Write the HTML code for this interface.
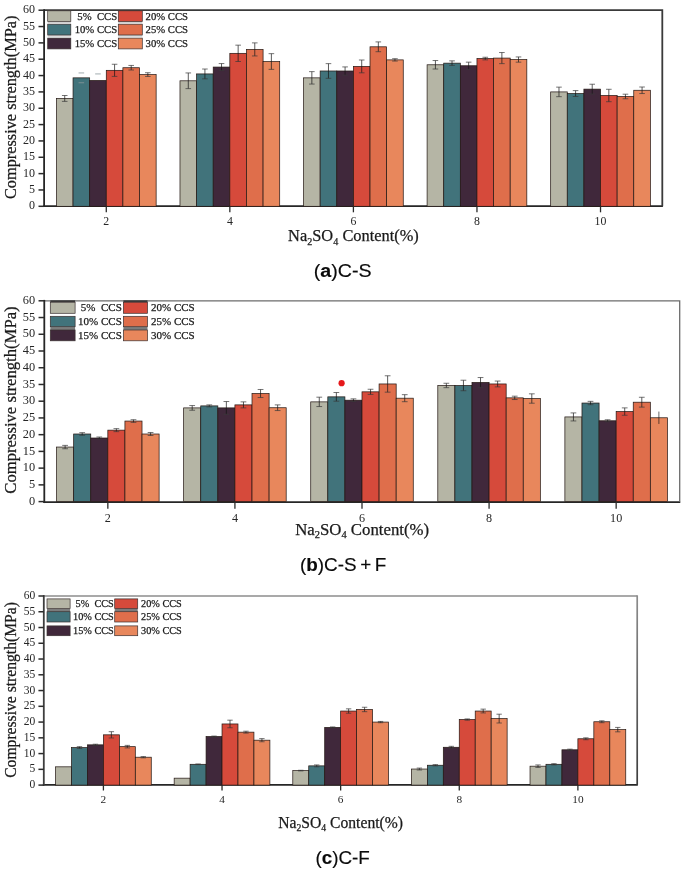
<!DOCTYPE html>
<html lang="en"><head><meta charset="utf-8"><title>Compressive strength</title>
<style>html,body{margin:0;padding:0;background:#fff}body{width:685px;height:871px;overflow:hidden}svg{display:block;filter:blur(0.7px)}</style>
</head><body>
<svg width="685" height="871" viewBox="0 0 685 871">
<rect x="0" y="0" width="685" height="871" fill="#ffffff"/>
<g id="chart0">
<path d="M43.10 206.10H662.90" fill="none" stroke="#262626" stroke-width="1.7"/>
<rect x="56.42" y="98.45" width="16.62" height="107.86" fill="#b5b5a5" stroke="#241814" stroke-width="0.72"/>
<rect x="73.04" y="77.85" width="16.62" height="128.45" fill="#41737b" stroke="#241814" stroke-width="0.72"/>
<rect x="89.66" y="80.47" width="16.62" height="125.83" fill="#40283b" stroke="#241814" stroke-width="0.72"/>
<rect x="106.28" y="70.34" width="16.62" height="135.96" fill="#d64a3b" stroke="#241814" stroke-width="0.72"/>
<rect x="122.90" y="67.72" width="16.62" height="138.58" fill="#df6e4b" stroke="#241814" stroke-width="0.72"/>
<rect x="139.52" y="74.59" width="16.62" height="131.71" fill="#e8875c" stroke="#241814" stroke-width="0.72"/>
<rect x="179.98" y="80.80" width="16.62" height="125.50" fill="#b5b5a5" stroke="#241814" stroke-width="0.72"/>
<rect x="196.60" y="73.93" width="16.62" height="132.37" fill="#41737b" stroke="#241814" stroke-width="0.72"/>
<rect x="213.22" y="67.07" width="16.62" height="139.23" fill="#40283b" stroke="#241814" stroke-width="0.72"/>
<rect x="229.84" y="53.34" width="16.62" height="152.96" fill="#d64a3b" stroke="#241814" stroke-width="0.72"/>
<rect x="246.46" y="49.42" width="16.62" height="156.88" fill="#df6e4b" stroke="#241814" stroke-width="0.72"/>
<rect x="263.08" y="61.51" width="16.62" height="144.79" fill="#e8875c" stroke="#241814" stroke-width="0.72"/>
<rect x="303.54" y="77.85" width="16.62" height="128.45" fill="#b5b5a5" stroke="#241814" stroke-width="0.72"/>
<rect x="320.16" y="70.99" width="16.62" height="135.31" fill="#41737b" stroke="#241814" stroke-width="0.72"/>
<rect x="336.78" y="70.99" width="16.62" height="135.31" fill="#40283b" stroke="#241814" stroke-width="0.72"/>
<rect x="353.40" y="66.42" width="16.62" height="139.88" fill="#d64a3b" stroke="#241814" stroke-width="0.72"/>
<rect x="370.02" y="46.81" width="16.62" height="159.49" fill="#df6e4b" stroke="#241814" stroke-width="0.72"/>
<rect x="386.64" y="59.88" width="16.62" height="146.42" fill="#e8875c" stroke="#241814" stroke-width="0.72"/>
<rect x="427.10" y="64.78" width="16.62" height="141.52" fill="#b5b5a5" stroke="#241814" stroke-width="0.72"/>
<rect x="443.72" y="63.15" width="16.62" height="143.15" fill="#41737b" stroke="#241814" stroke-width="0.72"/>
<rect x="460.34" y="65.76" width="16.62" height="140.54" fill="#40283b" stroke="#241814" stroke-width="0.72"/>
<rect x="476.96" y="58.57" width="16.62" height="147.73" fill="#d64a3b" stroke="#241814" stroke-width="0.72"/>
<rect x="493.58" y="58.08" width="16.62" height="148.22" fill="#df6e4b" stroke="#241814" stroke-width="0.72"/>
<rect x="510.20" y="59.55" width="16.62" height="146.75" fill="#e8875c" stroke="#241814" stroke-width="0.72"/>
<rect x="550.66" y="91.91" width="16.62" height="114.39" fill="#b5b5a5" stroke="#241814" stroke-width="0.72"/>
<rect x="567.28" y="93.54" width="16.62" height="112.76" fill="#41737b" stroke="#241814" stroke-width="0.72"/>
<rect x="583.90" y="89.13" width="16.62" height="117.17" fill="#40283b" stroke="#241814" stroke-width="0.72"/>
<rect x="600.52" y="95.50" width="16.62" height="110.80" fill="#d64a3b" stroke="#241814" stroke-width="0.72"/>
<rect x="617.14" y="96.48" width="16.62" height="109.82" fill="#df6e4b" stroke="#241814" stroke-width="0.72"/>
<rect x="633.76" y="90.27" width="16.62" height="116.03" fill="#e8875c" stroke="#241814" stroke-width="0.72"/>
<path d="M64.73 95.50V101.39" stroke="#141414" stroke-width="0.7" fill="none"/>
<path d="M61.93 95.50H67.53M61.93 101.39H67.53" stroke="#3a3a3a" stroke-width="0.7" fill="none"/>
<path d="M78.55 72.95H84.15M78.55 82.76H84.15" stroke="#8a979a" stroke-width="0.8" fill="none"/>
<path d="M95.17 73.93H100.77" stroke="#8a979a" stroke-width="0.8" fill="none"/>
<path d="M114.59 64.26V76.42" stroke="#141414" stroke-width="0.7" fill="none"/>
<path d="M111.79 64.26H117.39M111.79 76.42H117.39" stroke="#3a3a3a" stroke-width="0.7" fill="none"/>
<path d="M131.21 65.43V70.01" stroke="#141414" stroke-width="0.7" fill="none"/>
<path d="M128.41 65.43H134.01M128.41 70.01H134.01" stroke="#3a3a3a" stroke-width="0.7" fill="none"/>
<path d="M147.83 72.72V76.45" stroke="#141414" stroke-width="0.7" fill="none"/>
<path d="M145.03 72.72H150.63M145.03 76.45H150.63" stroke="#3a3a3a" stroke-width="0.7" fill="none"/>
<path d="M188.29 72.95V88.64" stroke="#141414" stroke-width="0.7" fill="none"/>
<path d="M185.49 72.95H191.09M185.49 88.64H191.09" stroke="#3a3a3a" stroke-width="0.7" fill="none"/>
<path d="M204.91 69.03V78.84" stroke="#141414" stroke-width="0.7" fill="none"/>
<path d="M202.11 69.03H207.71M202.11 78.84H207.71" stroke="#3a3a3a" stroke-width="0.7" fill="none"/>
<path d="M221.53 63.57V70.57" stroke="#141414" stroke-width="0.7" fill="none"/>
<path d="M218.73 63.57H224.33M218.73 70.57H224.33" stroke="#3a3a3a" stroke-width="0.7" fill="none"/>
<path d="M238.15 45.17V61.51" stroke="#141414" stroke-width="0.7" fill="none"/>
<path d="M235.35 45.17H240.95M235.35 61.51H240.95" stroke="#3a3a3a" stroke-width="0.7" fill="none"/>
<path d="M254.77 42.88V55.96" stroke="#141414" stroke-width="0.7" fill="none"/>
<path d="M251.97 42.88H257.57M251.97 55.96H257.57" stroke="#3a3a3a" stroke-width="0.7" fill="none"/>
<path d="M271.39 53.67V69.36" stroke="#141414" stroke-width="0.7" fill="none"/>
<path d="M268.59 53.67H274.19M268.59 69.36H274.19" stroke="#3a3a3a" stroke-width="0.7" fill="none"/>
<path d="M311.85 71.64V84.06" stroke="#141414" stroke-width="0.7" fill="none"/>
<path d="M309.05 71.64H314.65M309.05 84.06H314.65" stroke="#3a3a3a" stroke-width="0.7" fill="none"/>
<path d="M328.47 63.64V78.34" stroke="#141414" stroke-width="0.7" fill="none"/>
<path d="M325.67 63.64H331.27M325.67 78.34H331.27" stroke="#3a3a3a" stroke-width="0.7" fill="none"/>
<path d="M345.09 66.91V75.08" stroke="#141414" stroke-width="0.7" fill="none"/>
<path d="M342.29 66.91H347.89M342.29 75.08H347.89" stroke="#3a3a3a" stroke-width="0.7" fill="none"/>
<path d="M361.71 60.01V72.82" stroke="#141414" stroke-width="0.7" fill="none"/>
<path d="M358.91 60.01H364.51M358.91 72.82H364.51" stroke="#3a3a3a" stroke-width="0.7" fill="none"/>
<path d="M378.33 41.90V51.71" stroke="#141414" stroke-width="0.7" fill="none"/>
<path d="M375.53 41.90H381.13M375.53 51.71H381.13" stroke="#3a3a3a" stroke-width="0.7" fill="none"/>
<path d="M394.95 58.70V61.06" stroke="#141414" stroke-width="0.7" fill="none"/>
<path d="M392.15 58.70H397.75M392.15 61.06H397.75" stroke="#3a3a3a" stroke-width="0.7" fill="none"/>
<path d="M435.41 60.53V69.03" stroke="#141414" stroke-width="0.7" fill="none"/>
<path d="M432.61 60.53H438.21M432.61 69.03H438.21" stroke="#3a3a3a" stroke-width="0.7" fill="none"/>
<path d="M452.03 60.86V65.43" stroke="#141414" stroke-width="0.7" fill="none"/>
<path d="M449.23 60.86H454.83M449.23 65.43H454.83" stroke="#3a3a3a" stroke-width="0.7" fill="none"/>
<path d="M468.65 62.17V69.36" stroke="#141414" stroke-width="0.7" fill="none"/>
<path d="M465.85 62.17H471.45M465.85 69.36H471.45" stroke="#3a3a3a" stroke-width="0.7" fill="none"/>
<path d="M485.27 57.26V59.88" stroke="#141414" stroke-width="0.7" fill="none"/>
<path d="M482.47 57.26H488.07M482.47 59.88H488.07" stroke="#3a3a3a" stroke-width="0.7" fill="none"/>
<path d="M501.89 52.52V63.64" stroke="#141414" stroke-width="0.7" fill="none"/>
<path d="M499.09 52.52H504.69M499.09 63.64H504.69" stroke="#3a3a3a" stroke-width="0.7" fill="none"/>
<path d="M518.51 56.94V62.17" stroke="#141414" stroke-width="0.7" fill="none"/>
<path d="M515.71 56.94H521.31M515.71 62.17H521.31" stroke="#3a3a3a" stroke-width="0.7" fill="none"/>
<path d="M558.97 87.14V96.68" stroke="#141414" stroke-width="0.7" fill="none"/>
<path d="M556.17 87.14H561.77M556.17 96.68H561.77" stroke="#3a3a3a" stroke-width="0.7" fill="none"/>
<path d="M575.59 90.60V96.48" stroke="#141414" stroke-width="0.7" fill="none"/>
<path d="M572.79 90.60H578.39M572.79 96.48H578.39" stroke="#3a3a3a" stroke-width="0.7" fill="none"/>
<path d="M592.21 84.23V94.03" stroke="#141414" stroke-width="0.7" fill="none"/>
<path d="M589.41 84.23H595.01M589.41 94.03H595.01" stroke="#3a3a3a" stroke-width="0.7" fill="none"/>
<path d="M608.83 89.29V101.71" stroke="#141414" stroke-width="0.7" fill="none"/>
<path d="M606.03 89.29H611.63M606.03 101.71H611.63" stroke="#3a3a3a" stroke-width="0.7" fill="none"/>
<path d="M625.45 94.20V98.77" stroke="#141414" stroke-width="0.7" fill="none"/>
<path d="M622.65 94.20H628.25M622.65 98.77H628.25" stroke="#3a3a3a" stroke-width="0.7" fill="none"/>
<path d="M642.07 87.01V93.54" stroke="#141414" stroke-width="0.7" fill="none"/>
<path d="M639.27 87.01H644.87M639.27 93.54H644.87" stroke="#3a3a3a" stroke-width="0.7" fill="none"/>
<path d="M44.10 10.20H662.30V206.30" fill="none" stroke="#3a3a3a" stroke-width="1.8"/>
<path d="M44.10 9.30V206.95" fill="none" stroke="#262626" stroke-width="1.8"/>
<path d="M38.50 206.30H44.10" stroke="#2b2b2b" stroke-width="1.5"/>
<text x="35.10" y="209.42" font-family='"Liberation Serif", "DejaVu Serif", serif' font-size="12.00" text-anchor="end" fill="#262626">0</text>
<path d="M38.50 189.96H44.10" stroke="#2b2b2b" stroke-width="1.5"/>
<text x="35.10" y="193.08" font-family='"Liberation Serif", "DejaVu Serif", serif' font-size="12.00" text-anchor="end" fill="#262626">5</text>
<path d="M38.50 173.62H44.10" stroke="#2b2b2b" stroke-width="1.5"/>
<text x="35.10" y="176.74" font-family='"Liberation Serif", "DejaVu Serif", serif' font-size="12.00" text-anchor="end" fill="#262626">10</text>
<path d="M38.50 157.28H44.10" stroke="#2b2b2b" stroke-width="1.5"/>
<text x="35.10" y="160.40" font-family='"Liberation Serif", "DejaVu Serif", serif' font-size="12.00" text-anchor="end" fill="#262626">15</text>
<path d="M38.50 140.93H44.10" stroke="#2b2b2b" stroke-width="1.5"/>
<text x="35.10" y="144.05" font-family='"Liberation Serif", "DejaVu Serif", serif' font-size="12.00" text-anchor="end" fill="#262626">20</text>
<path d="M38.50 124.59H44.10" stroke="#2b2b2b" stroke-width="1.5"/>
<text x="35.10" y="127.71" font-family='"Liberation Serif", "DejaVu Serif", serif' font-size="12.00" text-anchor="end" fill="#262626">25</text>
<path d="M38.50 108.25H44.10" stroke="#2b2b2b" stroke-width="1.5"/>
<text x="35.10" y="111.37" font-family='"Liberation Serif", "DejaVu Serif", serif' font-size="12.00" text-anchor="end" fill="#262626">30</text>
<path d="M38.50 91.91H44.10" stroke="#2b2b2b" stroke-width="1.5"/>
<text x="35.10" y="95.03" font-family='"Liberation Serif", "DejaVu Serif", serif' font-size="12.00" text-anchor="end" fill="#262626">35</text>
<path d="M38.50 75.57H44.10" stroke="#2b2b2b" stroke-width="1.5"/>
<text x="35.10" y="78.69" font-family='"Liberation Serif", "DejaVu Serif", serif' font-size="12.00" text-anchor="end" fill="#262626">40</text>
<path d="M38.50 59.22H44.10" stroke="#2b2b2b" stroke-width="1.5"/>
<text x="35.10" y="62.34" font-family='"Liberation Serif", "DejaVu Serif", serif' font-size="12.00" text-anchor="end" fill="#262626">45</text>
<path d="M38.50 42.88H44.10" stroke="#2b2b2b" stroke-width="1.5"/>
<text x="35.10" y="46.00" font-family='"Liberation Serif", "DejaVu Serif", serif' font-size="12.00" text-anchor="end" fill="#262626">50</text>
<path d="M38.50 26.54H44.10" stroke="#2b2b2b" stroke-width="1.5"/>
<text x="35.10" y="29.66" font-family='"Liberation Serif", "DejaVu Serif", serif' font-size="12.00" text-anchor="end" fill="#262626">55</text>
<path d="M38.50 10.20H44.10" stroke="#2b2b2b" stroke-width="1.5"/>
<text x="35.10" y="13.32" font-family='"Liberation Serif", "DejaVu Serif", serif' font-size="12.00" text-anchor="end" fill="#262626">60</text>
<path d="M106.28 206.30V212.30" stroke="#2b2b2b" stroke-width="1.3"/>
<text x="106.28" y="225.10" font-family='"Liberation Serif", "DejaVu Serif", serif' font-size="11.80" text-anchor="middle" fill="#262626">2</text>
<path d="M229.84 206.30V212.30" stroke="#2b2b2b" stroke-width="1.3"/>
<text x="229.84" y="225.10" font-family='"Liberation Serif", "DejaVu Serif", serif' font-size="11.80" text-anchor="middle" fill="#262626">4</text>
<path d="M353.40 206.30V212.30" stroke="#2b2b2b" stroke-width="1.3"/>
<text x="353.40" y="225.10" font-family='"Liberation Serif", "DejaVu Serif", serif' font-size="11.80" text-anchor="middle" fill="#262626">6</text>
<path d="M476.96 206.30V212.30" stroke="#2b2b2b" stroke-width="1.3"/>
<text x="476.96" y="225.10" font-family='"Liberation Serif", "DejaVu Serif", serif' font-size="11.80" text-anchor="middle" fill="#262626">8</text>
<path d="M600.52 206.30V212.30" stroke="#2b2b2b" stroke-width="1.3"/>
<text x="600.52" y="225.10" font-family='"Liberation Serif", "DejaVu Serif", serif' font-size="11.80" text-anchor="middle" fill="#262626">10</text>
<text x="288.10" y="241.30" font-family='"Liberation Serif", "DejaVu Serif", serif' font-size="16.35" fill="#1a1a1a" stroke="#1a1a1a" stroke-width="0.25" textLength="130.70" lengthAdjust="spacingAndGlyphs">Na<tspan font-size="10.14" dy="3.27">2</tspan><tspan dy="-3.27">SO</tspan><tspan font-size="10.14" dy="3.27">4</tspan><tspan dy="-3.27"> Content(%)</tspan></text>
<text transform="translate(15.60 199.10) rotate(-90)" font-family='"Liberation Serif", "DejaVu Serif", serif' font-size="16.35" fill="#1a1a1a" stroke="#1a1a1a" stroke-width="0.25" textLength="183.50" lengthAdjust="spacingAndGlyphs">Compressive strength(MPa)</text>
<text x="313.80" y="277.20" font-family='"Liberation Sans", "DejaVu Sans", sans-serif' font-size="19.1" word-spacing="-1.7" fill="#0a0a0a" stroke="#0a0a0a" stroke-width="0.15" textLength="57.80" lengthAdjust="spacingAndGlyphs">(<tspan font-weight="bold">a</tspan>)C-S</text>
<rect x="47.70" y="21.60" width="23.10" height="1.70" fill="#cfcfcf"/>
<rect x="118.30" y="21.60" width="24.00" height="1.70" fill="#cfcfcf"/>
<rect x="47.70" y="35.00" width="23.10" height="1.70" fill="#cfcfcf"/>
<rect x="118.30" y="35.00" width="24.00" height="1.70" fill="#cfcfcf"/>
<rect x="47.70" y="10.80" width="23.10" height="10.80" fill="#b5b5a5" stroke="#3a3030" stroke-width="0.7"/>
<text x="117.10" y="19.73" font-family='"Liberation Serif", "DejaVu Serif", serif' font-size="10.70" text-anchor="end" fill="#1a1a1a" stroke="#1a1a1a" stroke-width="0.25" xml:space="preserve">5%  CCS</text>
<rect x="47.70" y="24.20" width="23.10" height="10.80" fill="#41737b" stroke="#3a3030" stroke-width="0.7"/>
<text x="117.10" y="33.13" font-family='"Liberation Serif", "DejaVu Serif", serif' font-size="10.70" text-anchor="end" fill="#1a1a1a" stroke="#1a1a1a" stroke-width="0.25" xml:space="preserve">10% CCS</text>
<rect x="47.70" y="38.10" width="23.10" height="10.80" fill="#40283b" stroke="#3a3030" stroke-width="0.7"/>
<text x="117.10" y="47.03" font-family='"Liberation Serif", "DejaVu Serif", serif' font-size="10.70" text-anchor="end" fill="#1a1a1a" stroke="#1a1a1a" stroke-width="0.25" xml:space="preserve">15% CCS</text>
<rect x="118.30" y="10.80" width="24.00" height="10.80" fill="#d64a3b" stroke="#3a3030" stroke-width="0.7"/>
<text x="145.60" y="19.73" font-family='"Liberation Serif", "DejaVu Serif", serif' font-size="10.70" fill="#1a1a1a" stroke="#1a1a1a" stroke-width="0.25" xml:space="preserve">20% CCS</text>
<rect x="118.30" y="24.20" width="24.00" height="10.80" fill="#df6e4b" stroke="#3a3030" stroke-width="0.7"/>
<text x="145.60" y="33.13" font-family='"Liberation Serif", "DejaVu Serif", serif' font-size="10.70" fill="#1a1a1a" stroke="#1a1a1a" stroke-width="0.25" xml:space="preserve">25% CCS</text>
<rect x="118.30" y="38.10" width="24.00" height="10.80" fill="#e8875c" stroke="#3a3030" stroke-width="0.7"/>
<text x="145.60" y="47.03" font-family='"Liberation Serif", "DejaVu Serif", serif' font-size="10.70" fill="#1a1a1a" stroke="#1a1a1a" stroke-width="0.25" xml:space="preserve">30% CCS</text>
</g>
<g id="chart1">
<path d="M43.30 502.20H680.30" fill="none" stroke="#262626" stroke-width="1.7"/>
<rect x="56.56" y="447.05" width="17.09" height="54.55" fill="#b5b5a5" stroke="#241814" stroke-width="0.72"/>
<rect x="73.66" y="434.00" width="17.09" height="67.60" fill="#41737b" stroke="#241814" stroke-width="0.72"/>
<rect x="90.75" y="438.01" width="17.09" height="63.59" fill="#40283b" stroke="#241814" stroke-width="0.72"/>
<rect x="107.84" y="430.15" width="17.09" height="71.45" fill="#d64a3b" stroke="#241814" stroke-width="0.72"/>
<rect x="124.93" y="421.05" width="17.09" height="80.55" fill="#df6e4b" stroke="#241814" stroke-width="0.72"/>
<rect x="142.02" y="434.00" width="17.09" height="67.60" fill="#e8875c" stroke="#241814" stroke-width="0.72"/>
<rect x="183.64" y="407.89" width="17.09" height="93.71" fill="#b5b5a5" stroke="#241814" stroke-width="0.72"/>
<rect x="200.74" y="405.89" width="17.09" height="95.71" fill="#41737b" stroke="#241814" stroke-width="0.72"/>
<rect x="217.83" y="407.89" width="17.09" height="93.71" fill="#40283b" stroke="#241814" stroke-width="0.72"/>
<rect x="234.92" y="404.88" width="17.09" height="96.72" fill="#d64a3b" stroke="#241814" stroke-width="0.72"/>
<rect x="252.01" y="393.50" width="17.09" height="108.10" fill="#df6e4b" stroke="#241814" stroke-width="0.72"/>
<rect x="269.10" y="407.73" width="17.09" height="93.87" fill="#e8875c" stroke="#241814" stroke-width="0.72"/>
<rect x="310.72" y="401.87" width="17.09" height="99.73" fill="#b5b5a5" stroke="#241814" stroke-width="0.72"/>
<rect x="327.82" y="396.85" width="17.09" height="104.75" fill="#41737b" stroke="#241814" stroke-width="0.72"/>
<rect x="344.91" y="400.20" width="17.09" height="101.40" fill="#40283b" stroke="#241814" stroke-width="0.72"/>
<rect x="362.00" y="391.83" width="17.09" height="109.77" fill="#d64a3b" stroke="#241814" stroke-width="0.72"/>
<rect x="379.09" y="383.96" width="17.09" height="117.64" fill="#df6e4b" stroke="#241814" stroke-width="0.72"/>
<rect x="396.18" y="398.19" width="17.09" height="103.41" fill="#e8875c" stroke="#241814" stroke-width="0.72"/>
<rect x="437.80" y="385.47" width="17.09" height="116.13" fill="#b5b5a5" stroke="#241814" stroke-width="0.72"/>
<rect x="454.90" y="385.47" width="17.09" height="116.13" fill="#41737b" stroke="#241814" stroke-width="0.72"/>
<rect x="471.99" y="382.46" width="17.09" height="119.14" fill="#40283b" stroke="#241814" stroke-width="0.72"/>
<rect x="489.08" y="383.96" width="17.09" height="117.64" fill="#d64a3b" stroke="#241814" stroke-width="0.72"/>
<rect x="506.17" y="397.85" width="17.09" height="103.75" fill="#df6e4b" stroke="#241814" stroke-width="0.72"/>
<rect x="523.26" y="398.52" width="17.09" height="103.08" fill="#e8875c" stroke="#241814" stroke-width="0.72"/>
<rect x="564.88" y="416.93" width="17.09" height="84.67" fill="#b5b5a5" stroke="#241814" stroke-width="0.72"/>
<rect x="581.98" y="403.04" width="17.09" height="98.56" fill="#41737b" stroke="#241814" stroke-width="0.72"/>
<rect x="599.07" y="420.78" width="17.09" height="80.82" fill="#40283b" stroke="#241814" stroke-width="0.72"/>
<rect x="616.16" y="411.57" width="17.09" height="90.03" fill="#d64a3b" stroke="#241814" stroke-width="0.72"/>
<rect x="633.25" y="402.20" width="17.09" height="99.40" fill="#df6e4b" stroke="#241814" stroke-width="0.72"/>
<rect x="650.34" y="417.77" width="17.09" height="83.83" fill="#e8875c" stroke="#241814" stroke-width="0.72"/>
<path d="M65.11 445.38V448.72" stroke="#141414" stroke-width="0.7" fill="none"/>
<path d="M62.23 445.38H67.99M62.23 448.72H67.99" stroke="#3a3a3a" stroke-width="0.7" fill="none"/>
<path d="M82.20 432.66V435.34" stroke="#141414" stroke-width="0.7" fill="none"/>
<path d="M79.32 432.66H85.08M79.32 435.34H85.08" stroke="#3a3a3a" stroke-width="0.7" fill="none"/>
<path d="M99.29 437.01V439.02" stroke="#141414" stroke-width="0.7" fill="none"/>
<path d="M96.42 437.01H102.17M96.42 439.02H102.17" stroke="#3a3a3a" stroke-width="0.7" fill="none"/>
<path d="M116.39 428.64V431.65" stroke="#141414" stroke-width="0.7" fill="none"/>
<path d="M113.51 428.64H119.26M113.51 431.65H119.26" stroke="#3a3a3a" stroke-width="0.7" fill="none"/>
<path d="M133.48 419.71V422.38" stroke="#141414" stroke-width="0.7" fill="none"/>
<path d="M130.60 419.71H136.36M130.60 422.38H136.36" stroke="#3a3a3a" stroke-width="0.7" fill="none"/>
<path d="M150.57 432.49V435.50" stroke="#141414" stroke-width="0.7" fill="none"/>
<path d="M147.69 432.49H153.45M147.69 435.50H153.45" stroke="#3a3a3a" stroke-width="0.7" fill="none"/>
<path d="M192.19 405.55V410.24" stroke="#141414" stroke-width="0.7" fill="none"/>
<path d="M189.31 405.55H195.07M189.31 410.24H195.07" stroke="#3a3a3a" stroke-width="0.7" fill="none"/>
<path d="M209.28 404.88V406.89" stroke="#141414" stroke-width="0.7" fill="none"/>
<path d="M206.40 404.88H212.16M206.40 406.89H212.16" stroke="#3a3a3a" stroke-width="0.7" fill="none"/>
<path d="M226.37 401.53V414.25" stroke="#141414" stroke-width="0.7" fill="none"/>
<path d="M223.50 401.53H229.25M223.50 414.25H229.25" stroke="#3a3a3a" stroke-width="0.7" fill="none"/>
<path d="M243.47 401.87V407.89" stroke="#141414" stroke-width="0.7" fill="none"/>
<path d="M240.59 401.87H246.34M240.59 407.89H246.34" stroke="#3a3a3a" stroke-width="0.7" fill="none"/>
<path d="M260.56 389.49V397.52" stroke="#141414" stroke-width="0.7" fill="none"/>
<path d="M257.68 389.49H263.44M257.68 397.52H263.44" stroke="#3a3a3a" stroke-width="0.7" fill="none"/>
<path d="M277.65 404.88V410.57" stroke="#141414" stroke-width="0.7" fill="none"/>
<path d="M274.77 404.88H280.53M274.77 410.57H280.53" stroke="#3a3a3a" stroke-width="0.7" fill="none"/>
<path d="M319.27 397.18V406.55" stroke="#141414" stroke-width="0.7" fill="none"/>
<path d="M316.39 397.18H322.15M316.39 406.55H322.15" stroke="#3a3a3a" stroke-width="0.7" fill="none"/>
<path d="M336.36 392.50V401.20" stroke="#141414" stroke-width="0.7" fill="none"/>
<path d="M333.48 392.50H339.24M333.48 401.20H339.24" stroke="#3a3a3a" stroke-width="0.7" fill="none"/>
<path d="M353.45 398.86V401.53" stroke="#141414" stroke-width="0.7" fill="none"/>
<path d="M350.58 398.86H356.33M350.58 401.53H356.33" stroke="#3a3a3a" stroke-width="0.7" fill="none"/>
<path d="M370.55 389.25V394.41" stroke="#141414" stroke-width="0.7" fill="none"/>
<path d="M367.67 389.25H373.42M367.67 394.41H373.42" stroke="#3a3a3a" stroke-width="0.7" fill="none"/>
<path d="M387.64 375.77V392.16" stroke="#141414" stroke-width="0.7" fill="none"/>
<path d="M384.76 375.77H390.52M384.76 392.16H390.52" stroke="#3a3a3a" stroke-width="0.7" fill="none"/>
<path d="M404.73 394.67V401.70" stroke="#141414" stroke-width="0.7" fill="none"/>
<path d="M401.85 394.67H407.61M401.85 401.70H407.61" stroke="#3a3a3a" stroke-width="0.7" fill="none"/>
<path d="M446.35 383.26V387.68" stroke="#141414" stroke-width="0.7" fill="none"/>
<path d="M443.47 383.26H449.23M443.47 387.68H449.23" stroke="#3a3a3a" stroke-width="0.7" fill="none"/>
<path d="M463.44 380.22V390.72" stroke="#141414" stroke-width="0.7" fill="none"/>
<path d="M460.56 380.22H466.32M460.56 390.72H466.32" stroke="#3a3a3a" stroke-width="0.7" fill="none"/>
<path d="M480.53 377.54V387.38" stroke="#141414" stroke-width="0.7" fill="none"/>
<path d="M477.66 377.54H483.41M477.66 387.38H483.41" stroke="#3a3a3a" stroke-width="0.7" fill="none"/>
<path d="M497.63 381.05V386.88" stroke="#141414" stroke-width="0.7" fill="none"/>
<path d="M494.75 381.05H500.50M494.75 386.88H500.50" stroke="#3a3a3a" stroke-width="0.7" fill="none"/>
<path d="M514.72 396.18V399.53" stroke="#141414" stroke-width="0.7" fill="none"/>
<path d="M511.84 396.18H517.60M511.84 399.53H517.60" stroke="#3a3a3a" stroke-width="0.7" fill="none"/>
<path d="M531.81 393.84V403.21" stroke="#141414" stroke-width="0.7" fill="none"/>
<path d="M528.93 393.84H534.69M528.93 403.21H534.69" stroke="#3a3a3a" stroke-width="0.7" fill="none"/>
<path d="M573.43 412.91V420.95" stroke="#141414" stroke-width="0.7" fill="none"/>
<path d="M570.55 412.91H576.31M570.55 420.95H576.31" stroke="#3a3a3a" stroke-width="0.7" fill="none"/>
<path d="M590.52 401.37V404.71" stroke="#141414" stroke-width="0.7" fill="none"/>
<path d="M587.64 401.37H593.40M587.64 404.71H593.40" stroke="#3a3a3a" stroke-width="0.7" fill="none"/>
<path d="M607.61 419.77V421.78" stroke="#141414" stroke-width="0.7" fill="none"/>
<path d="M604.74 419.77H610.49M604.74 421.78H610.49" stroke="#3a3a3a" stroke-width="0.7" fill="none"/>
<path d="M624.71 407.89V415.26" stroke="#141414" stroke-width="0.7" fill="none"/>
<path d="M621.83 407.89H627.58M621.83 415.26H627.58" stroke="#3a3a3a" stroke-width="0.7" fill="none"/>
<path d="M641.80 397.28V407.12" stroke="#141414" stroke-width="0.7" fill="none"/>
<path d="M638.92 397.28H644.68M638.92 407.12H644.68" stroke="#3a3a3a" stroke-width="0.7" fill="none"/>
<path d="M658.89 411.57V423.96" stroke="#141414" stroke-width="0.65" fill="none"/>
<path d="M44.30 300.80H679.70V501.60" fill="none" stroke="#6c6c6c" stroke-width="1.3"/>
<path d="M44.30 299.90V503.05" fill="none" stroke="#262626" stroke-width="1.8"/>
<path d="M38.54 501.60H44.30" stroke="#2b2b2b" stroke-width="1.5"/>
<text x="35.05" y="504.81" font-family='"Liberation Serif", "DejaVu Serif", serif' font-size="12.33" text-anchor="end" fill="#262626">0</text>
<path d="M38.54 484.87H44.30" stroke="#2b2b2b" stroke-width="1.5"/>
<text x="35.05" y="488.07" font-family='"Liberation Serif", "DejaVu Serif", serif' font-size="12.33" text-anchor="end" fill="#262626">5</text>
<path d="M38.54 468.13H44.30" stroke="#2b2b2b" stroke-width="1.5"/>
<text x="35.05" y="471.34" font-family='"Liberation Serif", "DejaVu Serif", serif' font-size="12.33" text-anchor="end" fill="#262626">10</text>
<path d="M38.54 451.40H44.30" stroke="#2b2b2b" stroke-width="1.5"/>
<text x="35.05" y="454.61" font-family='"Liberation Serif", "DejaVu Serif", serif' font-size="12.33" text-anchor="end" fill="#262626">15</text>
<path d="M38.54 434.67H44.30" stroke="#2b2b2b" stroke-width="1.5"/>
<text x="35.05" y="437.87" font-family='"Liberation Serif", "DejaVu Serif", serif' font-size="12.33" text-anchor="end" fill="#262626">20</text>
<path d="M38.54 417.93H44.30" stroke="#2b2b2b" stroke-width="1.5"/>
<text x="35.05" y="421.14" font-family='"Liberation Serif", "DejaVu Serif", serif' font-size="12.33" text-anchor="end" fill="#262626">25</text>
<path d="M38.54 401.20H44.30" stroke="#2b2b2b" stroke-width="1.5"/>
<text x="35.05" y="404.41" font-family='"Liberation Serif", "DejaVu Serif", serif' font-size="12.33" text-anchor="end" fill="#262626">30</text>
<path d="M38.54 384.47H44.30" stroke="#2b2b2b" stroke-width="1.5"/>
<text x="35.05" y="387.67" font-family='"Liberation Serif", "DejaVu Serif", serif' font-size="12.33" text-anchor="end" fill="#262626">35</text>
<path d="M38.54 367.73H44.30" stroke="#2b2b2b" stroke-width="1.5"/>
<text x="35.05" y="370.94" font-family='"Liberation Serif", "DejaVu Serif", serif' font-size="12.33" text-anchor="end" fill="#262626">40</text>
<path d="M38.54 351.00H44.30" stroke="#2b2b2b" stroke-width="1.5"/>
<text x="35.05" y="354.21" font-family='"Liberation Serif", "DejaVu Serif", serif' font-size="12.33" text-anchor="end" fill="#262626">45</text>
<path d="M38.54 334.27H44.30" stroke="#2b2b2b" stroke-width="1.5"/>
<text x="35.05" y="337.47" font-family='"Liberation Serif", "DejaVu Serif", serif' font-size="12.33" text-anchor="end" fill="#262626">50</text>
<path d="M38.54 317.53H44.30" stroke="#2b2b2b" stroke-width="1.5"/>
<text x="35.05" y="320.74" font-family='"Liberation Serif", "DejaVu Serif", serif' font-size="12.33" text-anchor="end" fill="#262626">55</text>
<path d="M38.54 300.80H44.30" stroke="#2b2b2b" stroke-width="1.5"/>
<text x="35.05" y="304.01" font-family='"Liberation Serif", "DejaVu Serif", serif' font-size="12.33" text-anchor="end" fill="#262626">60</text>
<path d="M107.84 501.60V508.80" stroke="#2b2b2b" stroke-width="1.3"/>
<text x="107.84" y="521.70" font-family='"Liberation Serif", "DejaVu Serif", serif' font-size="12.13" text-anchor="middle" fill="#262626">2</text>
<path d="M234.92 501.60V508.80" stroke="#2b2b2b" stroke-width="1.3"/>
<text x="234.92" y="521.70" font-family='"Liberation Serif", "DejaVu Serif", serif' font-size="12.13" text-anchor="middle" fill="#262626">4</text>
<path d="M362.00 501.60V508.80" stroke="#2b2b2b" stroke-width="1.3"/>
<text x="362.00" y="521.70" font-family='"Liberation Serif", "DejaVu Serif", serif' font-size="12.13" text-anchor="middle" fill="#262626">6</text>
<path d="M489.08 501.60V508.80" stroke="#2b2b2b" stroke-width="1.3"/>
<text x="489.08" y="521.70" font-family='"Liberation Serif", "DejaVu Serif", serif' font-size="12.13" text-anchor="middle" fill="#262626">8</text>
<path d="M616.16 501.60V508.80" stroke="#2b2b2b" stroke-width="1.3"/>
<text x="616.16" y="521.70" font-family='"Liberation Serif", "DejaVu Serif", serif' font-size="12.13" text-anchor="middle" fill="#262626">10</text>
<text x="295.20" y="534.70" font-family='"Liberation Serif", "DejaVu Serif", serif' font-size="16.80" fill="#1a1a1a" stroke="#1a1a1a" stroke-width="0.25" textLength="133.90" lengthAdjust="spacingAndGlyphs">Na<tspan font-size="10.42" dy="3.36">2</tspan><tspan dy="-3.36">SO</tspan><tspan font-size="10.42" dy="3.36">4</tspan><tspan dy="-3.36"> Content(%)</tspan></text>
<text transform="translate(16.00 493.70) rotate(-90)" font-family='"Liberation Serif", "DejaVu Serif", serif' font-size="16.80" fill="#1a1a1a" stroke="#1a1a1a" stroke-width="0.25" textLength="187.30" lengthAdjust="spacingAndGlyphs">Compressive strength(MPa)</text>
<text x="299.90" y="570.90" font-family='"Liberation Sans", "DejaVu Sans", sans-serif' font-size="19.1" word-spacing="-1.7" fill="#0a0a0a" stroke="#0a0a0a" stroke-width="0.15" textLength="86.40" lengthAdjust="spacingAndGlyphs">(<tspan font-weight="bold">b</tspan>)C-S + F</text>
<rect x="50.30" y="300.30" width="24.80" height="2.30" fill="#3a3a3a"/>
<rect x="123.40" y="300.30" width="24.10" height="2.30" fill="#3a3a3a"/>
<rect x="50.30" y="326.50" width="24.80" height="3.70" fill="#7c7c7c"/>
<rect x="123.40" y="326.50" width="24.10" height="3.70" fill="#7c7c7c"/>
<rect x="50.30" y="302.20" width="24.80" height="11.10" fill="#b5b5a5" stroke="#3a3030" stroke-width="0.7"/>
<text x="121.80" y="311.38" font-family='"Liberation Serif", "DejaVu Serif", serif' font-size="11.00" text-anchor="end" fill="#1a1a1a" stroke="#1a1a1a" stroke-width="0.25" xml:space="preserve">5%  CCS</text>
<rect x="50.30" y="316.30" width="24.80" height="10.40" fill="#41737b" stroke="#3a3030" stroke-width="0.7"/>
<text x="121.80" y="325.13" font-family='"Liberation Serif", "DejaVu Serif", serif' font-size="11.00" text-anchor="end" fill="#1a1a1a" stroke="#1a1a1a" stroke-width="0.25" xml:space="preserve">10% CCS</text>
<rect x="50.30" y="330.00" width="24.80" height="10.80" fill="#40283b" stroke="#3a3030" stroke-width="0.7"/>
<text x="121.80" y="339.03" font-family='"Liberation Serif", "DejaVu Serif", serif' font-size="11.00" text-anchor="end" fill="#1a1a1a" stroke="#1a1a1a" stroke-width="0.25" xml:space="preserve">15% CCS</text>
<rect x="123.40" y="302.20" width="24.10" height="11.10" fill="#d64a3b" stroke="#3a3030" stroke-width="0.7"/>
<text x="151.00" y="311.38" font-family='"Liberation Serif", "DejaVu Serif", serif' font-size="11.00" fill="#1a1a1a" stroke="#1a1a1a" stroke-width="0.25" xml:space="preserve">20% CCS</text>
<rect x="123.40" y="316.30" width="24.10" height="10.40" fill="#df6e4b" stroke="#3a3030" stroke-width="0.7"/>
<text x="151.00" y="325.13" font-family='"Liberation Serif", "DejaVu Serif", serif' font-size="11.00" fill="#1a1a1a" stroke="#1a1a1a" stroke-width="0.25" xml:space="preserve">25% CCS</text>
<rect x="123.40" y="330.00" width="24.10" height="10.80" fill="#e8875c" stroke="#3a3030" stroke-width="0.7"/>
<text x="151.00" y="339.03" font-family='"Liberation Serif", "DejaVu Serif", serif' font-size="11.00" fill="#1a1a1a" stroke="#1a1a1a" stroke-width="0.25" xml:space="preserve">30% CCS</text>
<circle cx="341.6" cy="383.2" r="3.1" fill="#e6181b"/>
</g>
<g id="chart2">
<path d="M42.80 784.90H637.80" fill="none" stroke="#262626" stroke-width="1.7"/>
<rect x="55.55" y="766.82" width="15.95" height="18.28" fill="#b5b5a5" stroke="#241814" stroke-width="0.72"/>
<rect x="71.50" y="747.60" width="15.95" height="37.50" fill="#41737b" stroke="#241814" stroke-width="0.72"/>
<rect x="87.46" y="744.85" width="15.95" height="40.25" fill="#40283b" stroke="#241814" stroke-width="0.72"/>
<rect x="103.41" y="734.83" width="15.95" height="50.27" fill="#d64a3b" stroke="#241814" stroke-width="0.72"/>
<rect x="119.36" y="746.65" width="15.95" height="38.45" fill="#df6e4b" stroke="#241814" stroke-width="0.72"/>
<rect x="135.32" y="757.21" width="15.95" height="27.89" fill="#e8875c" stroke="#241814" stroke-width="0.72"/>
<rect x="174.17" y="778.17" width="15.95" height="6.93" fill="#b5b5a5" stroke="#241814" stroke-width="0.72"/>
<rect x="190.12" y="764.30" width="15.95" height="20.80" fill="#41737b" stroke="#241814" stroke-width="0.72"/>
<rect x="206.08" y="736.56" width="15.95" height="48.54" fill="#40283b" stroke="#241814" stroke-width="0.72"/>
<rect x="222.03" y="723.96" width="15.95" height="61.14" fill="#d64a3b" stroke="#241814" stroke-width="0.72"/>
<rect x="237.98" y="732.15" width="15.95" height="52.95" fill="#df6e4b" stroke="#241814" stroke-width="0.72"/>
<rect x="253.94" y="740.19" width="15.95" height="44.91" fill="#e8875c" stroke="#241814" stroke-width="0.72"/>
<rect x="292.79" y="770.60" width="15.95" height="14.50" fill="#b5b5a5" stroke="#241814" stroke-width="0.72"/>
<rect x="308.74" y="765.87" width="15.95" height="19.23" fill="#41737b" stroke="#241814" stroke-width="0.72"/>
<rect x="324.70" y="727.42" width="15.95" height="57.68" fill="#40283b" stroke="#241814" stroke-width="0.72"/>
<rect x="340.65" y="711.04" width="15.95" height="74.06" fill="#d64a3b" stroke="#241814" stroke-width="0.72"/>
<rect x="356.60" y="709.46" width="15.95" height="75.64" fill="#df6e4b" stroke="#241814" stroke-width="0.72"/>
<rect x="372.56" y="722.07" width="15.95" height="63.03" fill="#e8875c" stroke="#241814" stroke-width="0.72"/>
<rect x="411.41" y="769.03" width="15.95" height="16.07" fill="#b5b5a5" stroke="#241814" stroke-width="0.72"/>
<rect x="427.36" y="765.24" width="15.95" height="19.86" fill="#41737b" stroke="#241814" stroke-width="0.72"/>
<rect x="443.32" y="747.28" width="15.95" height="37.82" fill="#40283b" stroke="#241814" stroke-width="0.72"/>
<rect x="459.27" y="719.55" width="15.95" height="65.55" fill="#d64a3b" stroke="#241814" stroke-width="0.72"/>
<rect x="475.22" y="711.04" width="15.95" height="74.06" fill="#df6e4b" stroke="#241814" stroke-width="0.72"/>
<rect x="491.18" y="718.60" width="15.95" height="66.50" fill="#e8875c" stroke="#241814" stroke-width="0.72"/>
<rect x="530.03" y="766.19" width="15.95" height="18.91" fill="#b5b5a5" stroke="#241814" stroke-width="0.72"/>
<rect x="545.98" y="764.30" width="15.95" height="20.80" fill="#41737b" stroke="#241814" stroke-width="0.72"/>
<rect x="561.94" y="749.80" width="15.95" height="35.30" fill="#40283b" stroke="#241814" stroke-width="0.72"/>
<rect x="577.89" y="738.77" width="15.95" height="46.33" fill="#d64a3b" stroke="#241814" stroke-width="0.72"/>
<rect x="593.84" y="721.75" width="15.95" height="63.35" fill="#df6e4b" stroke="#241814" stroke-width="0.72"/>
<rect x="609.80" y="729.63" width="15.95" height="55.47" fill="#e8875c" stroke="#241814" stroke-width="0.72"/>
<path d="M79.48 746.65V748.54" stroke="#141414" stroke-width="0.7" fill="none"/>
<path d="M76.79 746.65H82.16M76.79 748.54H82.16" stroke="#3a3a3a" stroke-width="0.7" fill="none"/>
<path d="M95.43 744.22V745.48" stroke="#141414" stroke-width="0.7" fill="none"/>
<path d="M92.75 744.22H98.12M92.75 745.48H98.12" stroke="#3a3a3a" stroke-width="0.7" fill="none"/>
<path d="M111.39 731.68V737.98" stroke="#141414" stroke-width="0.7" fill="none"/>
<path d="M108.70 731.68H114.07M108.70 737.98H114.07" stroke="#3a3a3a" stroke-width="0.7" fill="none"/>
<path d="M127.34 745.39V747.91" stroke="#141414" stroke-width="0.7" fill="none"/>
<path d="M124.66 745.39H130.03M124.66 747.91H130.03" stroke="#3a3a3a" stroke-width="0.7" fill="none"/>
<path d="M143.30 756.58V757.84" stroke="#141414" stroke-width="0.7" fill="none"/>
<path d="M140.61 756.58H145.98M140.61 757.84H145.98" stroke="#3a3a3a" stroke-width="0.7" fill="none"/>
<path d="M198.10 763.98V764.61" stroke="#141414" stroke-width="0.7" fill="none"/>
<path d="M195.41 763.98H200.78M195.41 764.61H200.78" stroke="#3a3a3a" stroke-width="0.7" fill="none"/>
<path d="M214.05 736.09V737.04" stroke="#141414" stroke-width="0.7" fill="none"/>
<path d="M211.37 736.09H216.74M211.37 737.04H216.74" stroke="#3a3a3a" stroke-width="0.7" fill="none"/>
<path d="M230.01 720.18V727.74" stroke="#141414" stroke-width="0.7" fill="none"/>
<path d="M227.32 720.18H232.69M227.32 727.74H232.69" stroke="#3a3a3a" stroke-width="0.7" fill="none"/>
<path d="M245.96 731.21V733.10" stroke="#141414" stroke-width="0.7" fill="none"/>
<path d="M243.28 731.21H248.65M243.28 733.10H248.65" stroke="#3a3a3a" stroke-width="0.7" fill="none"/>
<path d="M261.92 738.61V741.76" stroke="#141414" stroke-width="0.7" fill="none"/>
<path d="M259.23 738.61H264.60M259.23 741.76H264.60" stroke="#3a3a3a" stroke-width="0.7" fill="none"/>
<path d="M300.76 770.29V770.92" stroke="#141414" stroke-width="0.7" fill="none"/>
<path d="M298.08 770.29H303.45M298.08 770.92H303.45" stroke="#3a3a3a" stroke-width="0.7" fill="none"/>
<path d="M316.72 764.93V766.82" stroke="#141414" stroke-width="0.7" fill="none"/>
<path d="M314.03 764.93H319.40M314.03 766.82H319.40" stroke="#3a3a3a" stroke-width="0.7" fill="none"/>
<path d="M332.67 726.95V727.90" stroke="#141414" stroke-width="0.7" fill="none"/>
<path d="M329.99 726.95H335.36M329.99 727.90H335.36" stroke="#3a3a3a" stroke-width="0.7" fill="none"/>
<path d="M348.63 708.83V713.24" stroke="#141414" stroke-width="0.7" fill="none"/>
<path d="M345.94 708.83H351.31M345.94 713.24H351.31" stroke="#3a3a3a" stroke-width="0.7" fill="none"/>
<path d="M364.58 707.25V711.67" stroke="#141414" stroke-width="0.7" fill="none"/>
<path d="M361.90 707.25H367.27M361.90 711.67H367.27" stroke="#3a3a3a" stroke-width="0.7" fill="none"/>
<path d="M380.54 721.44V722.70" stroke="#141414" stroke-width="0.7" fill="none"/>
<path d="M377.85 721.44H383.22M377.85 722.70H383.22" stroke="#3a3a3a" stroke-width="0.7" fill="none"/>
<path d="M419.38 768.08V769.97" stroke="#141414" stroke-width="0.7" fill="none"/>
<path d="M416.70 768.08H422.07M416.70 769.97H422.07" stroke="#3a3a3a" stroke-width="0.7" fill="none"/>
<path d="M435.34 764.61V765.87" stroke="#141414" stroke-width="0.7" fill="none"/>
<path d="M432.65 764.61H438.02M432.65 765.87H438.02" stroke="#3a3a3a" stroke-width="0.7" fill="none"/>
<path d="M451.29 746.33V748.23" stroke="#141414" stroke-width="0.7" fill="none"/>
<path d="M448.61 746.33H453.98M448.61 748.23H453.98" stroke="#3a3a3a" stroke-width="0.7" fill="none"/>
<path d="M467.25 718.91V720.18" stroke="#141414" stroke-width="0.7" fill="none"/>
<path d="M464.56 718.91H469.93M464.56 720.18H469.93" stroke="#3a3a3a" stroke-width="0.7" fill="none"/>
<path d="M483.20 709.14V712.93" stroke="#141414" stroke-width="0.7" fill="none"/>
<path d="M480.52 709.14H485.89M480.52 712.93H485.89" stroke="#3a3a3a" stroke-width="0.7" fill="none"/>
<path d="M499.16 714.19V723.01" stroke="#141414" stroke-width="0.7" fill="none"/>
<path d="M496.47 714.19H501.84M496.47 723.01H501.84" stroke="#3a3a3a" stroke-width="0.7" fill="none"/>
<path d="M538.00 764.93V767.45" stroke="#141414" stroke-width="0.7" fill="none"/>
<path d="M535.32 764.93H540.69M535.32 767.45H540.69" stroke="#3a3a3a" stroke-width="0.7" fill="none"/>
<path d="M553.96 763.67V764.93" stroke="#141414" stroke-width="0.7" fill="none"/>
<path d="M551.27 763.67H556.64M551.27 764.93H556.64" stroke="#3a3a3a" stroke-width="0.7" fill="none"/>
<path d="M569.91 749.17V750.43" stroke="#141414" stroke-width="0.7" fill="none"/>
<path d="M567.23 749.17H572.60M567.23 750.43H572.60" stroke="#3a3a3a" stroke-width="0.7" fill="none"/>
<path d="M585.87 737.83V739.72" stroke="#141414" stroke-width="0.7" fill="none"/>
<path d="M583.18 737.83H588.55M583.18 739.72H588.55" stroke="#3a3a3a" stroke-width="0.7" fill="none"/>
<path d="M601.82 720.81V722.70" stroke="#141414" stroke-width="0.7" fill="none"/>
<path d="M599.14 720.81H604.51M599.14 722.70H604.51" stroke="#3a3a3a" stroke-width="0.7" fill="none"/>
<path d="M617.78 727.42V731.84" stroke="#141414" stroke-width="0.7" fill="none"/>
<path d="M615.09 727.42H620.46M615.09 731.84H620.46" stroke="#3a3a3a" stroke-width="0.7" fill="none"/>
<defs><linearGradient id="fg" gradientUnits="userSpaceOnUse" x1="0" y1="596.0" x2="0" y2="785.1"><stop offset="0" stop-color="#8c8c8c"/><stop offset="1" stop-color="#3c3c3c"/></linearGradient></defs>
<path d="M43.80 596.00H637.20" fill="none" stroke="#8c8c8c" stroke-width="1.5"/>
<path d="M637.20 595.30V785.10" fill="none" stroke="url(#fg)" stroke-width="1.7"/>
<path d="M43.80 595.10V785.75" fill="none" stroke="#3e3e3e" stroke-width="1.8"/>
<path d="M38.43 785.10H43.80" stroke="#2b2b2b" stroke-width="1.5"/>
<text x="35.17" y="788.09" font-family='"Liberation Serif", "DejaVu Serif", serif' font-size="11.50" text-anchor="end" fill="#262626">0</text>
<path d="M38.43 769.34H43.80" stroke="#2b2b2b" stroke-width="1.5"/>
<text x="35.17" y="772.33" font-family='"Liberation Serif", "DejaVu Serif", serif' font-size="11.50" text-anchor="end" fill="#262626">5</text>
<path d="M38.43 753.58H43.80" stroke="#2b2b2b" stroke-width="1.5"/>
<text x="35.17" y="756.57" font-family='"Liberation Serif", "DejaVu Serif", serif' font-size="11.50" text-anchor="end" fill="#262626">10</text>
<path d="M38.43 737.83H43.80" stroke="#2b2b2b" stroke-width="1.5"/>
<text x="35.17" y="740.82" font-family='"Liberation Serif", "DejaVu Serif", serif' font-size="11.50" text-anchor="end" fill="#262626">15</text>
<path d="M38.43 722.07H43.80" stroke="#2b2b2b" stroke-width="1.5"/>
<text x="35.17" y="725.06" font-family='"Liberation Serif", "DejaVu Serif", serif' font-size="11.50" text-anchor="end" fill="#262626">20</text>
<path d="M38.43 706.31H43.80" stroke="#2b2b2b" stroke-width="1.5"/>
<text x="35.17" y="709.30" font-family='"Liberation Serif", "DejaVu Serif", serif' font-size="11.50" text-anchor="end" fill="#262626">25</text>
<path d="M38.43 690.55H43.80" stroke="#2b2b2b" stroke-width="1.5"/>
<text x="35.17" y="693.54" font-family='"Liberation Serif", "DejaVu Serif", serif' font-size="11.50" text-anchor="end" fill="#262626">30</text>
<path d="M38.43 674.79H43.80" stroke="#2b2b2b" stroke-width="1.5"/>
<text x="35.17" y="677.78" font-family='"Liberation Serif", "DejaVu Serif", serif' font-size="11.50" text-anchor="end" fill="#262626">35</text>
<path d="M38.43 659.03H43.80" stroke="#2b2b2b" stroke-width="1.5"/>
<text x="35.17" y="662.02" font-family='"Liberation Serif", "DejaVu Serif", serif' font-size="11.50" text-anchor="end" fill="#262626">40</text>
<path d="M38.43 643.27H43.80" stroke="#2b2b2b" stroke-width="1.5"/>
<text x="35.17" y="646.27" font-family='"Liberation Serif", "DejaVu Serif", serif' font-size="11.50" text-anchor="end" fill="#262626">45</text>
<path d="M38.43 627.52H43.80" stroke="#2b2b2b" stroke-width="1.5"/>
<text x="35.17" y="630.51" font-family='"Liberation Serif", "DejaVu Serif", serif' font-size="11.50" text-anchor="end" fill="#262626">50</text>
<path d="M38.43 611.76H43.80" stroke="#2b2b2b" stroke-width="1.5"/>
<text x="35.17" y="614.75" font-family='"Liberation Serif", "DejaVu Serif", serif' font-size="11.50" text-anchor="end" fill="#262626">55</text>
<path d="M38.43 596.00H43.80" stroke="#2b2b2b" stroke-width="1.5"/>
<text x="35.17" y="598.99" font-family='"Liberation Serif", "DejaVu Serif", serif' font-size="11.50" text-anchor="end" fill="#262626">60</text>
<path d="M103.41 785.10V790.50" stroke="#2b2b2b" stroke-width="1.3"/>
<text x="103.41" y="803.00" font-family='"Liberation Serif", "DejaVu Serif", serif' font-size="11.31" text-anchor="middle" fill="#262626">2</text>
<path d="M222.03 785.10V790.50" stroke="#2b2b2b" stroke-width="1.3"/>
<text x="222.03" y="803.00" font-family='"Liberation Serif", "DejaVu Serif", serif' font-size="11.31" text-anchor="middle" fill="#262626">4</text>
<path d="M340.65 785.10V790.50" stroke="#2b2b2b" stroke-width="1.3"/>
<text x="340.65" y="803.00" font-family='"Liberation Serif", "DejaVu Serif", serif' font-size="11.31" text-anchor="middle" fill="#262626">6</text>
<path d="M459.27 785.10V790.50" stroke="#2b2b2b" stroke-width="1.3"/>
<text x="459.27" y="803.00" font-family='"Liberation Serif", "DejaVu Serif", serif' font-size="11.31" text-anchor="middle" fill="#262626">8</text>
<path d="M577.89 785.10V790.50" stroke="#2b2b2b" stroke-width="1.3"/>
<text x="577.89" y="803.00" font-family='"Liberation Serif", "DejaVu Serif", serif' font-size="11.31" text-anchor="middle" fill="#262626">10</text>
<text x="278.20" y="827.90" font-family='"Liberation Serif", "DejaVu Serif", serif' font-size="15.67" fill="#1a1a1a" stroke="#1a1a1a" stroke-width="0.25" textLength="124.80" lengthAdjust="spacingAndGlyphs">Na<tspan font-size="9.72" dy="3.13">2</tspan><tspan dy="-3.13">SO</tspan><tspan font-size="9.72" dy="3.13">4</tspan><tspan dy="-3.13"> Content(%)</tspan></text>
<text transform="translate(15.60 777.80) rotate(-90)" font-family='"Liberation Serif", "DejaVu Serif", serif' font-size="15.67" fill="#1a1a1a" stroke="#1a1a1a" stroke-width="0.25" textLength="175.70" lengthAdjust="spacingAndGlyphs">Compressive strength(MPa)</text>
<text x="315.40" y="863.60" font-family='"Liberation Sans", "DejaVu Sans", sans-serif' font-size="19.1" word-spacing="-1.7" fill="#0a0a0a" stroke="#0a0a0a" stroke-width="0.15" textLength="54.40" lengthAdjust="spacingAndGlyphs">(<tspan font-weight="bold">c</tspan>)C-F</text>
<rect x="47.00" y="608.50" width="23.10" height="3.40" fill="#7c7c7c"/>
<rect x="114.70" y="608.50" width="23.01" height="3.40" fill="#7c7c7c"/>
<rect x="47.00" y="598.90" width="23.10" height="9.70" fill="#b5b5a5" stroke="#3a3030" stroke-width="0.7"/>
<text x="113.78" y="607.13" font-family='"Liberation Serif", "DejaVu Serif", serif' font-size="10.26" text-anchor="end" fill="#1a1a1a" stroke="#1a1a1a" stroke-width="0.25" xml:space="preserve">5%  CCS</text>
<rect x="47.00" y="611.70" width="23.10" height="10.30" fill="#41737b" stroke="#3a3030" stroke-width="0.7"/>
<text x="113.78" y="620.23" font-family='"Liberation Serif", "DejaVu Serif", serif' font-size="10.26" text-anchor="end" fill="#1a1a1a" stroke="#1a1a1a" stroke-width="0.25" xml:space="preserve">10% CCS</text>
<rect x="47.00" y="625.90" width="23.10" height="9.80" fill="#40283b" stroke="#3a3030" stroke-width="0.7"/>
<text x="113.78" y="634.18" font-family='"Liberation Serif", "DejaVu Serif", serif' font-size="10.26" text-anchor="end" fill="#1a1a1a" stroke="#1a1a1a" stroke-width="0.25" xml:space="preserve">15% CCS</text>
<rect x="114.70" y="598.90" width="23.01" height="9.70" fill="#d64a3b" stroke="#3a3030" stroke-width="0.7"/>
<text x="141.10" y="607.13" font-family='"Liberation Serif", "DejaVu Serif", serif' font-size="10.26" fill="#1a1a1a" stroke="#1a1a1a" stroke-width="0.25" xml:space="preserve">20% CCS</text>
<rect x="114.70" y="611.70" width="23.01" height="10.30" fill="#df6e4b" stroke="#3a3030" stroke-width="0.7"/>
<text x="141.10" y="620.23" font-family='"Liberation Serif", "DejaVu Serif", serif' font-size="10.26" fill="#1a1a1a" stroke="#1a1a1a" stroke-width="0.25" xml:space="preserve">25% CCS</text>
<rect x="114.70" y="625.90" width="23.01" height="9.80" fill="#e8875c" stroke="#3a3030" stroke-width="0.7"/>
<text x="141.10" y="634.18" font-family='"Liberation Serif", "DejaVu Serif", serif' font-size="10.26" fill="#1a1a1a" stroke="#1a1a1a" stroke-width="0.25" xml:space="preserve">30% CCS</text>
</g>
</svg>
</body></html>
